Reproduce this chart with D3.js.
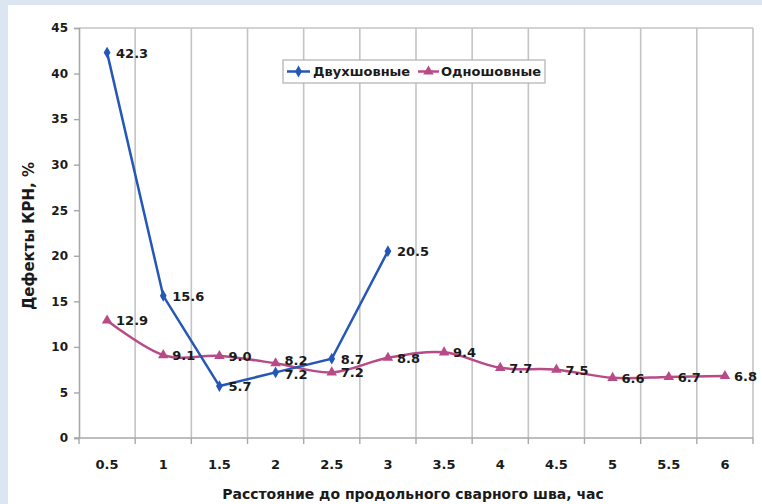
<!DOCTYPE html>
<html><head><meta charset="utf-8">
<script src="https://cdn.jsdelivr.net/npm/d3@7"></script>
<style>
html,body{margin:0;padding:0;background:#dce6f2;}
svg{display:block;}
text{font-family:"DejaVu Sans",Arial,sans-serif;font-weight:bold;fill:#1a1a1a;}
</style></head>
<body>
<svg id="c" width="762" height="504"></svg>
<script>
const categories = ["0.5","1","1.5","2","2.5","3","3.5","4","4.5","5","5.5","6"];
const twoSeam = [42.3, 15.6, 5.7, 7.2, 8.7, 20.5];
const oneSeam = [12.9, 9.1, 9.0, 8.2, 7.2, 8.8, 9.4, 7.7, 7.5, 6.6, 6.7, 6.8];
const yTicks = [0,5,10,15,20,25,30,35,40,45];
const seriesNames = ["Двухшовные","Одношовные"];
const xTitle = "Расстояние до продольного сварного шва, час";
const yTitle = "Дефекты КРН, %";

const svg = d3.select("#c");
svg.append("rect").attr("x",8).attr("y",5).attr("width",754).attr("height",499).attr("fill","#ffffff");

const L=79, R=753, T=28, B=438;
const x = d3.scaleBand().domain(categories).range([L,R]).padding(0);
const y = d3.scaleLinear().domain([0,45]).range([B,T]);
const cx = c => x(c)+x.bandwidth()/2;
const grid="#c4c4c4";

const bounds = categories.map(c=>x(c)).slice(1).concat([R]);
svg.append("g").selectAll("line").data(bounds).join("line")
  .attr("x1",d=>d).attr("x2",d=>d).attr("y1",T).attr("y2",B)
  .attr("stroke",grid).attr("stroke-width",1.6);
svg.append("line").attr("x1",L).attr("x2",R).attr("y1",T).attr("y2",T).attr("stroke",grid).attr("stroke-width",1.6);

const ya = svg.append("g").attr("transform",`translate(${L},0)`)
  .call(d3.axisLeft(y).tickValues(yTicks).tickSize(5).tickPadding(6).tickFormat(d3.format("d")));
ya.select(".domain").attr("stroke","#a8a8a8").attr("stroke-width",1.6);
ya.selectAll(".tick line").attr("stroke","#a8a8a8").attr("stroke-width",1.4);
ya.selectAll("text").style("font-size","12px").style("font-family","DejaVu Sans").attr("fill","#1a1a1a");

svg.append("line").attr("x1",L-5).attr("x2",R).attr("y1",B).attr("y2",B).attr("stroke","#a8a8a8").attr("stroke-width",1.6);
svg.append("g").selectAll("line").data([L].concat(bounds)).join("line")
  .attr("x1",d=>d).attr("x2",d=>d).attr("y1",B).attr("y2",B+6)
  .attr("stroke","#a8a8a8").attr("stroke-width",1.4);
svg.append("g").selectAll("text").data(categories).join("text")
  .attr("x",d=>cx(d)).attr("y",469).attr("text-anchor","middle").style("font-size","13px").text(d=>d);

svg.append("text").attr("x",413).attr("y",499).attr("text-anchor","middle").style("font-size","14px").text(xTitle);
svg.append("text").attr("transform",`translate(34,236) rotate(-90)`).attr("text-anchor","middle").style("font-size","15px").text(yTitle);

const blue="#2457b8", pink="#b84a88";
const d1 = twoSeam.map((v,i)=>({c:categories[i],v,dy:0}));
const d2 = oneSeam.map((v,i)=>({c:categories[i],v,dy:0}));
d2[3].dy=-3; d1[3].dy=2;

const line1 = d3.line().x(d=>cx(d.c)).y(d=>y(d.v)).curve(d3.curveLinear);
const line2 = d3.line().x(d=>cx(d.c)).y(d=>y(d.v)).curve(d3.curveCatmullRom.alpha(0));

svg.append("path").datum(d2).attr("d",line2).attr("fill","none").attr("stroke",pink).attr("stroke-width",2.5);
svg.append("path").datum(d1).attr("d",line1).attr("fill","none").attr("stroke",blue).attr("stroke-width",2.5);

const tri = d3.symbol().type(d3.symbolTriangle).size(48);
const dia = d3.symbol().type(d3.symbolDiamond).size(40);
svg.append("g").selectAll("path").data(d2).join("path")
  .attr("d",tri).attr("transform",d=>`translate(${cx(d.c)},${y(d.v)})`).attr("fill",pink);
svg.append("g").selectAll("path").data(d1).join("path")
  .attr("d",dia).attr("transform",d=>`translate(${cx(d.c)},${y(d.v)})`).attr("fill",blue);

const fmt = d3.format(".1f");
function labels(data){
  svg.append("g").selectAll("text").data(data).join("text")
    .attr("x",d=>cx(d.c)+9).attr("y",d=>y(d.v)+5+d.dy).style("font-size","13px").text(d=>fmt(d.v));
}
labels(d1); labels(d2);

const lg = svg.append("g");
lg.append("rect").attr("x",283).attr("y",60).attr("width",262).attr("height",23).attr("fill","#fff").attr("stroke","#b0b0b0").attr("stroke-width",1.2);
lg.append("line").attr("x1",287).attr("x2",310).attr("y1",71.5).attr("y2",71.5).attr("stroke",blue).attr("stroke-width",2.5);
lg.append("path").attr("d",dia).attr("transform","translate(298.5,71.5)").attr("fill",blue);
lg.append("text").attr("x",313).attr("y",76).style("font-size","13px").text(seriesNames[0]);
lg.append("line").attr("x1",418).attr("x2",439).attr("y1",71.5).attr("y2",71.5).attr("stroke",pink).attr("stroke-width",2.5);
lg.append("path").attr("d",tri).attr("transform","translate(428.5,71.5)").attr("fill",pink);
lg.append("text").attr("x",441).attr("y",76).style("font-size","13px").text(seriesNames[1]);
</script>
</body></html>
